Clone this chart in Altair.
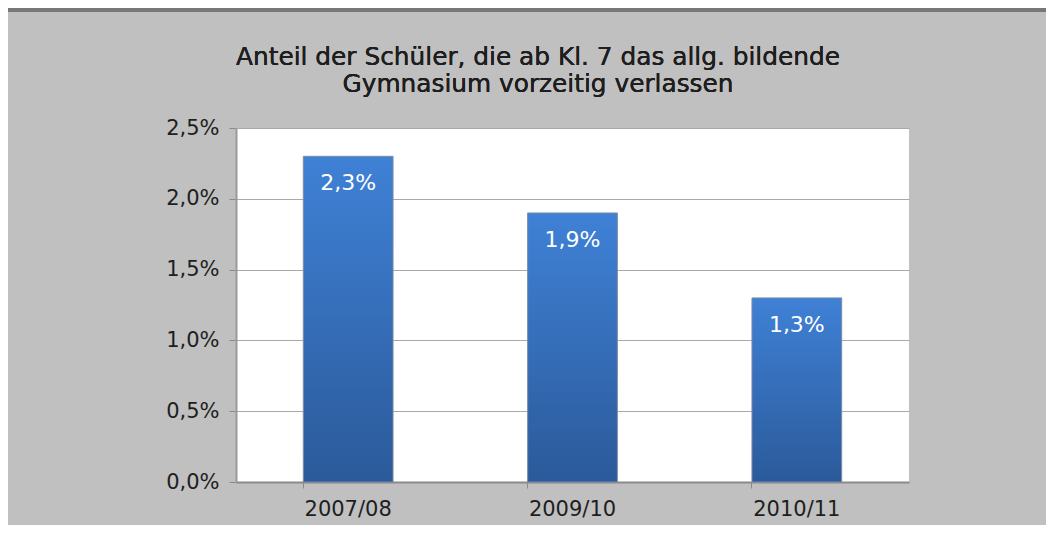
import altair as alt
import pandas as pd

years = ["2007/08", "2009/10", "2010/11"]
shares = [0.023, 0.019, 0.013]
labels = ["2,3%", "1,9%", "1,3%"]
title_lines = ["Anteil der Schüler, die ab Kl. 7 das allg. bildende",
               "Gymnasium vorzeitig verlassen"]

df = pd.DataFrame({"Jahr": years, "Anteil": shares, "Label": labels})

FONT = "DejaVu Sans"
W, H = 673, 354
PL, PT = 228, 120
TOTAL_W, TOTAL_H = 1038, 517

x = alt.X("Jahr:N", sort=years, title=None,
          scale=alt.Scale(paddingInner=0.6, paddingOuter=0.3),
          axis=alt.Axis(labelAngle=0, labelFont=FONT, labelFontSize=21, labelColor="#1e1e1e",
                        labelPadding=10, tickSize=6, tickColor="#8a8a8a", bandPosition=0,
                        domainColor="#8a8a8a", domainWidth=2, grid=False))
y = alt.Y("Anteil:Q", title=None,
          scale=alt.Scale(domain=[0, 0.025], nice=False),
          axis=alt.Axis(values=[0, 0.005, 0.01, 0.015, 0.02, 0.025],
                        labelExpr="replace(format(datum.value, '.1%'), '.', ',')",
                        labelFont=FONT, labelFontSize=21, labelColor="#1e1e1e",
                        labelPadding=10, tickSize=7, tickColor="#8a8a8a",
                        domainColor="#9a9a9a", domainWidth=2,
                        grid=True, gridColor="#a9a9a9", gridWidth=1))

bars = alt.Chart(df).mark_bar(
    color=alt.Gradient(gradient="linear", x1=0, y1=0, x2=0, y2=1,
                       stops=[alt.GradientStop(offset=0, color="#3f81d6"),
                              alt.GradientStop(offset=1, color="#2b5a9a")]),
    stroke="#7d8ca3", strokeWidth=1
).encode(x=x, y=y)

text = alt.Chart(df).mark_text(
    color="white", font=FONT, fontSize=22, baseline="middle", dy=27
).encode(x=alt.X("Jahr:N", sort=years), y="Anteil:Q", text="Label:N")

title1 = alt.Chart(df).mark_text(
    color="#1e1e1e", font=FONT, fontSize=24.8, baseline="middle", align="center",
    text=title_lines[0]
).encode(x=alt.value(302), y=alt.value(-70))

title2 = alt.Chart(df).mark_text(
    color="#1e1e1e", font=FONT, fontSize=24.8, baseline="middle", align="center",
    text=title_lines[1]
).encode(x=alt.value(302), y=alt.value(-43))

topbar = alt.Chart(df).mark_rule(color="#777777", strokeWidth=4).encode(
    x=alt.value(-PL), x2=alt.value(TOTAL_W - PL), y=alt.value(-PT + 2))

chart = alt.layer(bars, text, title1, title2, topbar).properties(
    width=W, height=H,
    autosize=alt.AutoSizeParams(type="none"),
    padding={"left": PL, "top": PT, "right": TOTAL_W - PL - W, "bottom": TOTAL_H - PT - H},
    background="#c0c0c0",
).configure_view(fill="white", stroke=None)

chart.save("out.html", embed_options={"renderer": "svg", "actions": False})
